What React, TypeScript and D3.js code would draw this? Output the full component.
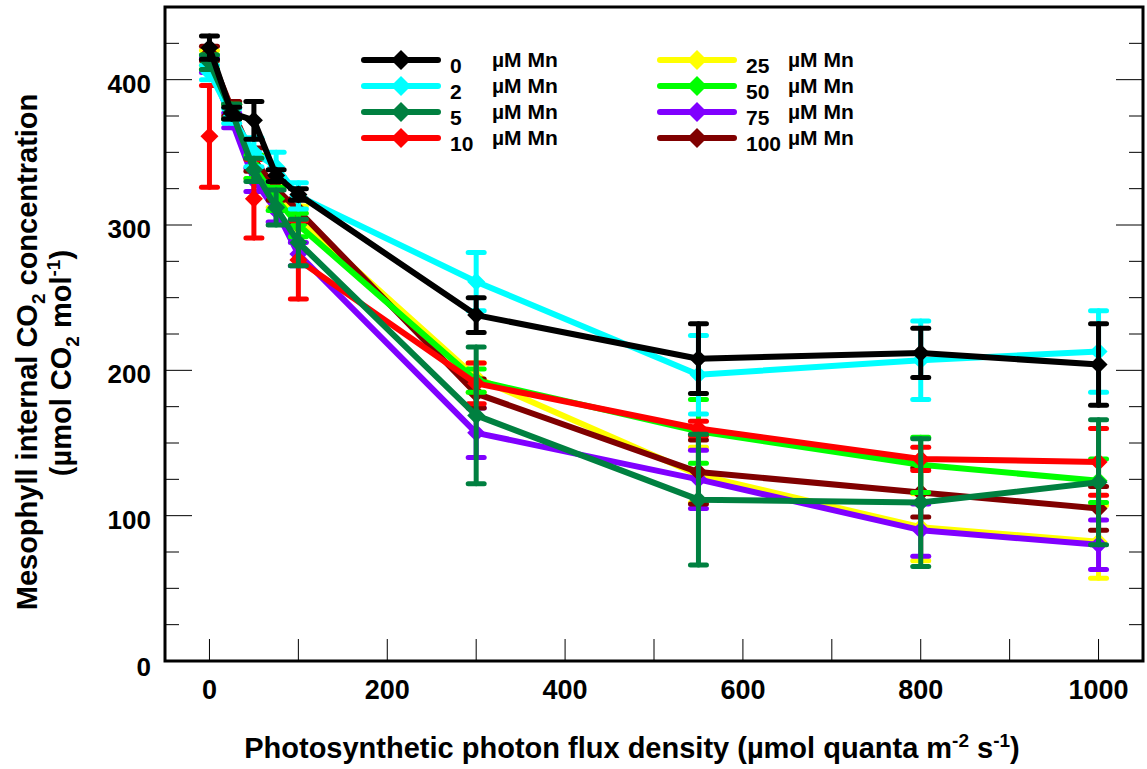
import React from "react";
import * as d3 from "d3";

const xVals = [0, 25, 50, 75, 100, 300, 550, 800, 1000];

const mn0 = [422, 377, 372, 334, 321, 238, 208, 212, 204];
const err0 = [8, 4, 13, 4, 4, 12, 24, 17, 28];
const mn2 = [405, 375, 350, 340, 320, 261, 197, 207, 213];
const err2 = [5, 5, 10, 10, 9, 20, 27, 27, 28];
const mn5 = [412, 378, 338, 312, 288, 169, 111, 109, 123];
const err5 = [5, 5, 8, 12, 16, 47, 45, 44, 43];
const mn10 = [361, null, 318, null, 276, 191, 160, 139, 137];
const err10 = [35, 0, 27, 0, 27, 14, 5, 8, 23];
const mn25 = [415, 378, 340, 320, 305, 195, 128, 92, 82];
const err25 = [5, 5, 8, 8, 8, 10, 19, 23, 25];
const mn50 = [412, 378, 340, 318, 300, 193, 158, 135, 124];
const err50 = [5, 5, 8, 8, 8, 8, 22, 19, 15];
const mn75 = [410, 372, 331, 310, 280, 157, 125, 90, 80];
const err75 = [5, 5, 8, 8, 8, 17, 20, 18, 17];
const mn100 = [418, 380, 345, 325, 310, 184, 130, 116, 105];
const err100 = [5, 5, 8, 8, 8, 10, 22, 17, 15];

const seriesLabels = ["0", "2", "5", "10", "25", "50", "75", "100"];
const seriesColors = ["#000000", "#00ffff", "#008040", "#ff0000", "#ffff00", "#00ff00", "#8000ff", "#800000"];
const seriesValues = [mn0, mn2, mn5, mn10, mn25, mn50, mn75, mn100];
const seriesErrors = [err0, err2, err5, err10, err25, err50, err75, err100];
// draw order (bottom to top)
const drawOrder = [4, 6, 7, 5, 3, 1, 2, 0];

const yTicks = [0, 100, 200, 300, 400];
const yMinor = d3.range(0, 451, 25);
const xTicks = [0, 200, 400, 600, 800, 1000];
const xMinor = d3.range(0, 1001, 100);

const W = 1147, H = 769;
const left = 165, right = 1143, top = 7, bottom = 661;

export default function App() {
  const x = d3.scaleLinear().domain([-50, 1050]).range([left, right]);
  const y = d3.scaleLinear().domain([0, 450]).range([bottom, top]);
  const font = "'Liberation Sans', Arial, sans-serif";
  const line = d3
    .line<[number, number | null]>()
    .defined((d) => d[1] != null)
    .x((d) => x(d[0]))
    .y((d) => y(d[1] as number));
  const diamond = (cx: number, cy: number, r: number) =>
    `M${cx},${cy - r}L${cx + r},${cy}L${cx},${cy + r}L${cx - r},${cy}Z`;

  const legendRows = [60, 86, 112, 138];
  const legendCols = [364, 660];

  return (
    <svg width={W} height={H} style={{ position: "absolute", left: 0, top: 0, background: "#fff" }}>
      <rect x={0} y={0} width={W} height={H} fill="#fff" />
      {/* ticks */}
      {yMinor.map((v) => (
        <line key={"ym" + v} x1={left} x2={left + (v % 100 === 0 ? 27 : 14)} y1={y(v)} y2={y(v)} stroke="#000" strokeWidth={1} />
      ))}
      {yMinor.map((v) => (
        <line key={"ymr" + v} x1={right} x2={right - (v % 100 === 0 ? 27 : 14)} y1={y(v)} y2={y(v)} stroke="#000" strokeWidth={1} />
      ))}
      {xMinor.map((v) => (
        <line key={"xm" + v} x1={x(v)} x2={x(v)} y1={bottom} y2={bottom - 22} stroke="#000" strokeWidth={1} />
      ))}
      {/* series */}
      {drawOrder.map((si) => {
        const vals = seriesValues[si];
        const errs = seriesErrors[si];
        const col = seriesColors[si];
        const pts = xVals.map((xv, i) => [xv, vals[i]] as [number, number | null]);
        return (
          <g key={"s" + si}>
            <path d={line(pts) || ""} fill="none" stroke={col} strokeWidth={6} strokeLinejoin="round" />
            {pts.map((p, i) =>
              p[1] == null ? null : (
                <g key={i}>
                  {errs[i] > 0 && (
                    <g stroke={col} strokeWidth={5} strokeLinecap="round">
                      <line x1={x(p[0])} x2={x(p[0])} y1={y(p[1] + errs[i])} y2={y(p[1] - errs[i])} />
                      <line x1={x(p[0]) - 8} x2={x(p[0]) + 8} y1={y(p[1] + errs[i])} y2={y(p[1] + errs[i])} />
                      <line x1={x(p[0]) - 8} x2={x(p[0]) + 8} y1={y(p[1] - errs[i])} y2={y(p[1] - errs[i])} />
                    </g>
                  )}
                  <path d={diamond(x(p[0]), y(p[1]), 9)} fill={col} />
                </g>
              )
            )}
          </g>
        );
      })}
      {/* frame */}
      <rect x={left} y={top} width={right - left} height={bottom - top} fill="none" stroke="#000" strokeWidth={3} />
      {/* y tick labels */}
      {yTicks.map((v) => (
        <text key={"yl" + v} x={151} y={y(v) + 13 + (v === 0 ? 2 : 0)} textAnchor="end" fontFamily={font} fontWeight="bold" fontSize={26}>
          {v}
        </text>
      ))}
      {xTicks.map((v) => (
        <text key={"xl" + v} x={x(v)} y={699} textAnchor="middle" fontFamily={font} fontWeight="bold" fontSize={27}>
          {v}
        </text>
      ))}
      {/* axis titles */}
      <text x={632} y={758} textAnchor="middle" fontFamily={font} fontWeight="bold" fontSize={29}>
        Photosynthetic photon flux density (µmol quanta m
        <tspan dy={-11} fontSize={19}>-2</tspan>
        <tspan dy={11}> s</tspan>
        <tspan dy={-11} fontSize={19}>-1</tspan>
        <tspan dy={11}>)</tspan>
      </text>
      <text transform="translate(37,352) rotate(-90)" textAnchor="middle" fontFamily={font} fontWeight="bold" fontSize={29}>
        Mesophyll internal CO
        <tspan dy={8} fontSize={19}>2</tspan>
        <tspan dy={-8}> concentration</tspan>
      </text>
      <text transform="translate(71,363) rotate(-90)" textAnchor="middle" fontFamily={font} fontWeight="bold" fontSize={29}>
        (µmol CO
        <tspan dy={8} fontSize={19}>2</tspan>
        <tspan dy={-8}> mol</tspan>
        <tspan dy={-11} fontSize={19}>-1</tspan>
        <tspan dy={11}>)</tspan>
      </text>
      {/* legend */}
      {seriesLabels.map((lab, i) => {
        const col = Math.floor(i / 4);
        const row = i % 4;
        const lx = legendCols[col];
        const ly = legendRows[row];
        return (
          <g key={"lg" + i}>
            <line x1={lx} x2={lx + 74} y1={ly} y2={ly} stroke={seriesColors[i]} strokeWidth={6} strokeLinecap="round" />
            <path d={diamond(lx + 37, ly, 10)} fill={seriesColors[i]} />
            <text x={lx + 86} y={ly + 13} fontFamily={font} fontWeight="bold" fontSize={21}>
              {lab}
            </text>
            <text x={lx + 128} y={ly + 7} fontFamily={font} fontWeight="bold" fontSize={21}>
              µM Mn
            </text>
          </g>
        );
      })}
    </svg>
  );
}
